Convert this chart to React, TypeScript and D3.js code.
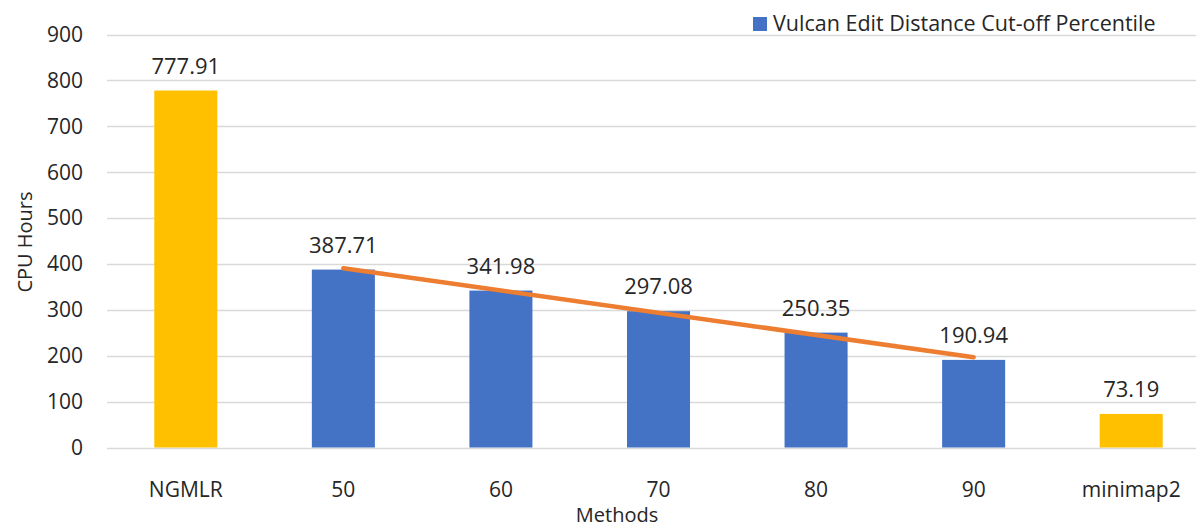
import { useMemo } from "react";
import * as d3 from "d3";

const methods = ["NGMLR", "50", "60", "70", "80", "90", "minimap2"];
const cpuHours = [777.91, 387.71, 341.98, 297.08, 250.35, 190.94, 73.19];
// which bars belong to the Vulcan series (others are baseline tools)
const isVulcan = [false, true, true, true, true, true, false];
const yTicks = [0, 100, 200, 300, 400, 500, 600, 700, 800, 900];

const BLUE = "#4472C4";
const GOLD = "#FFC000";
const ORANGE = "#ED7D31";
const FONT = "'Open Sans', 'Noto Sans', sans-serif";

export default function App() {
  const width = 1196;
  const height = 527;
  const margin = { top: 35, right: -14, bottom: 80, left: 107 };
  const innerHeight = height - margin.top - margin.bottom;

  const xScale = d3
    .scaleBand()
    .domain(methods)
    .range([margin.left, width - margin.right])
    .paddingInner(0.6)
    .paddingOuter(0.3);

  const yScale = d3.scaleLinear().domain([0, 900]).range([margin.top + innerHeight + 0.5, margin.top - 0.5]);

  // linear trendline over the Vulcan bars
  const trend = useMemo(() => {
    const pts = methods
      .map((m, i) => ({ m, i, v: cpuHours[i] }))
      .filter((d) => isVulcan[d.i]);
    const xs = pts.map((_, k) => k + 1);
    const mx = d3.mean(xs) || 0;
    const my = d3.mean(pts, (d) => d.v) || 0;
    const slope =
      d3.sum(xs.map((x, k) => (x - mx) * (pts[k].v - my))) /
      d3.sum(xs.map((x) => (x - mx) ** 2));
    const first = pts[0];
    const last = pts[pts.length - 1];
    return [
      { m: first.m, v: my + slope * (1 - mx) },
      { m: last.m, v: my + slope * (xs.length - mx) },
    ];
  }, []);

  const cx = (m: string) => (xScale(m) || 0) + xScale.bandwidth() / 2;
  const line = d3
    .line<{ m: string; v: number }>()
    .x((d) => cx(d.m))
    .y((d) => yScale(d.v));

  return (
    <div style={{ position: "fixed", left: 0, top: 0 }}>
      <svg width={width} height={height} style={{ display: "block", background: "#fff" }} fontFamily={FONT}>
        {/* gridlines */}
        {yTicks.map((t) => (
          <line
            key={t}
            x1={margin.left}
            x2={width}
            y1={Math.round(yScale(t)) + 0.5}
            y2={Math.round(yScale(t)) + 0.5}
            stroke="#D9D9D9"
            strokeWidth={1.5}
          />
        ))}
        {/* y tick labels */}
        {yTicks.map((t) => (
          <text
            key={t}
            x={83}
            y={yScale(t)}
            dy="0.35em"
            textAnchor="end"
            fontSize={21}
            fill="#262626"
          >
            {t}
          </text>
        ))}

        {/* bars */}
        {methods.map((m, i) => (
          <rect
            key={m}
            x={xScale(m)}
            y={yScale(cpuHours[i])}
            width={xScale.bandwidth()}
            height={yScale(0) - yScale(cpuHours[i])}
            fill={isVulcan[i] ? BLUE : GOLD}
          />
        ))}

        {/* value labels */}
        {methods.map((m, i) => (
          <text
            key={m}
            x={cx(m)}
            y={yScale(cpuHours[i]) - 17}
            textAnchor="middle"
            fontSize={22}
            fill="#262626"
          >
            {cpuHours[i].toFixed(2)}
          </text>
        ))}

        {/* trendline */}
        <path d={line(trend) || ""} fill="none" stroke={ORANGE} strokeWidth={4.5} strokeLinecap="round" />

        {/* x tick labels */}
        {methods.map((m) => (
          <text key={m} x={cx(m)} y={497} textAnchor="middle" fontSize={21} fill="#262626">
            {m}
          </text>
        ))}

        {/* axis titles */}
        <text x={617} y={522} textAnchor="middle" fontSize={20} fill="#262626">
          Methods
        </text>
        <text
          transform="translate(32, 242) rotate(-90)"
          textAnchor="middle"
          fontSize={20}
          fill="#262626"
        >
          CPU  Hours
        </text>

        {/* legend */}
        <rect x={753} y={17} width={14} height={14} fill={BLUE} />
        <text x={773} y={31} fontSize={21.5} fill="#262626">
          Vulcan Edit Distance Cut-off Percentile
        </text>
      </svg>
    </div>
  );
}
